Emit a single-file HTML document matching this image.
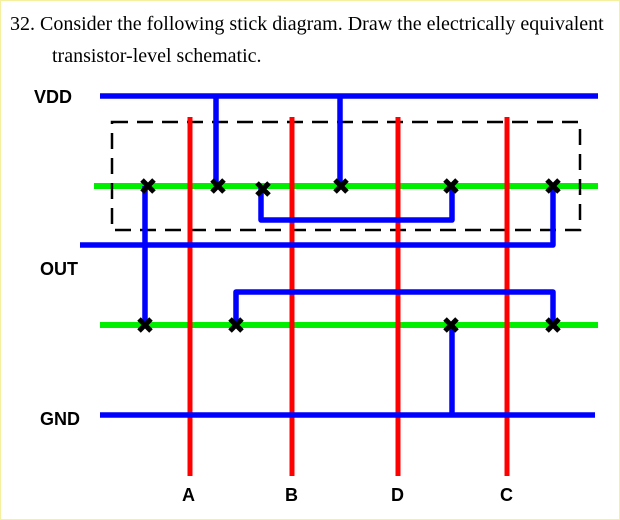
<!DOCTYPE html>
<html><head><style>
html,body{margin:0;padding:0;background:#fff;}
body{width:620px;height:520px;overflow:hidden;position:relative;}
.t{position:absolute;font-family:"Liberation Serif",serif;font-size:20px;color:#000;white-space:nowrap;}
</style></head><body>
<div class="t" style="left:10px;top:13px;">32. Consider the following stick diagram. Draw the electrically equivalent</div>
<div class="t" style="left:52px;top:45px;">transistor-level schematic.</div>
<svg width="620" height="520" style="position:absolute;left:0;top:0" font-family="Liberation Sans, sans-serif" font-weight="bold">
<rect x="0.5" y="0.5" width="619" height="519" fill="none" stroke="#f4f0a0" stroke-width="1"/>
<line x1="94" y1="186" x2="598" y2="186" stroke="#00ee00" stroke-width="6"/>
<line x1="100" y1="325" x2="598" y2="325" stroke="#00ee00" stroke-width="6"/>
<rect x="112" y="122" width="468" height="108" fill="none" stroke="#000" stroke-width="2.5" stroke-dasharray="16,9"/>
<g stroke="#ff0000" stroke-width="5">
<line x1="190" y1="117" x2="190" y2="476"/>
<line x1="292" y1="117" x2="292" y2="476"/>
<line x1="398" y1="117" x2="398" y2="476"/>
<line x1="507" y1="117" x2="507" y2="476"/>
</g>
<g stroke="#0000ff" stroke-width="5.5" fill="none" stroke-linejoin="round">
<line x1="100" y1="96" x2="598" y2="96"/>
<polyline points="216,96 216,186"/>
<polyline points="340,96 340,186"/>
<polyline points="261,188 261,220 452,220 452,186"/>
<polyline points="80,245 553,245 553,186"/>
<polyline points="145,186 145,325"/>
<polyline points="236,325 236,292 553,292 553,325"/>
<polyline points="452,325 452,415"/>
<line x1="100" y1="415" x2="595" y2="415"/>
</g>
<g stroke="#000" stroke-width="5">
<path d="M142,180l12,12M154,180l-12,12"/>
<path d="M212,180l12,12M224,180l-12,12"/>
<path d="M257,183l12,12M269,183l-12,12"/>
<path d="M335,180l12,12M347,180l-12,12"/>
<path d="M445,180l12,12M457,180l-12,12"/>
<path d="M547,180l12,12M559,180l-12,12"/>
<path d="M139,319l12,12M151,319l-12,12"/>
<path d="M230,319l12,12M242,319l-12,12"/>
<path d="M445,319l12,12M457,319l-12,12"/>
<path d="M547,319l12,12M559,319l-12,12"/>
</g>
<g font-size="18" fill="#000">
<text x="34" y="103">VDD</text>
<text x="40" y="275">OUT</text>
<text x="40" y="425">GND</text>
<text x="182" y="501">A</text>
<text x="285" y="501">B</text>
<text x="391" y="501">D</text>
<text x="500" y="501">C</text>
</g>
</svg>
</body></html>
